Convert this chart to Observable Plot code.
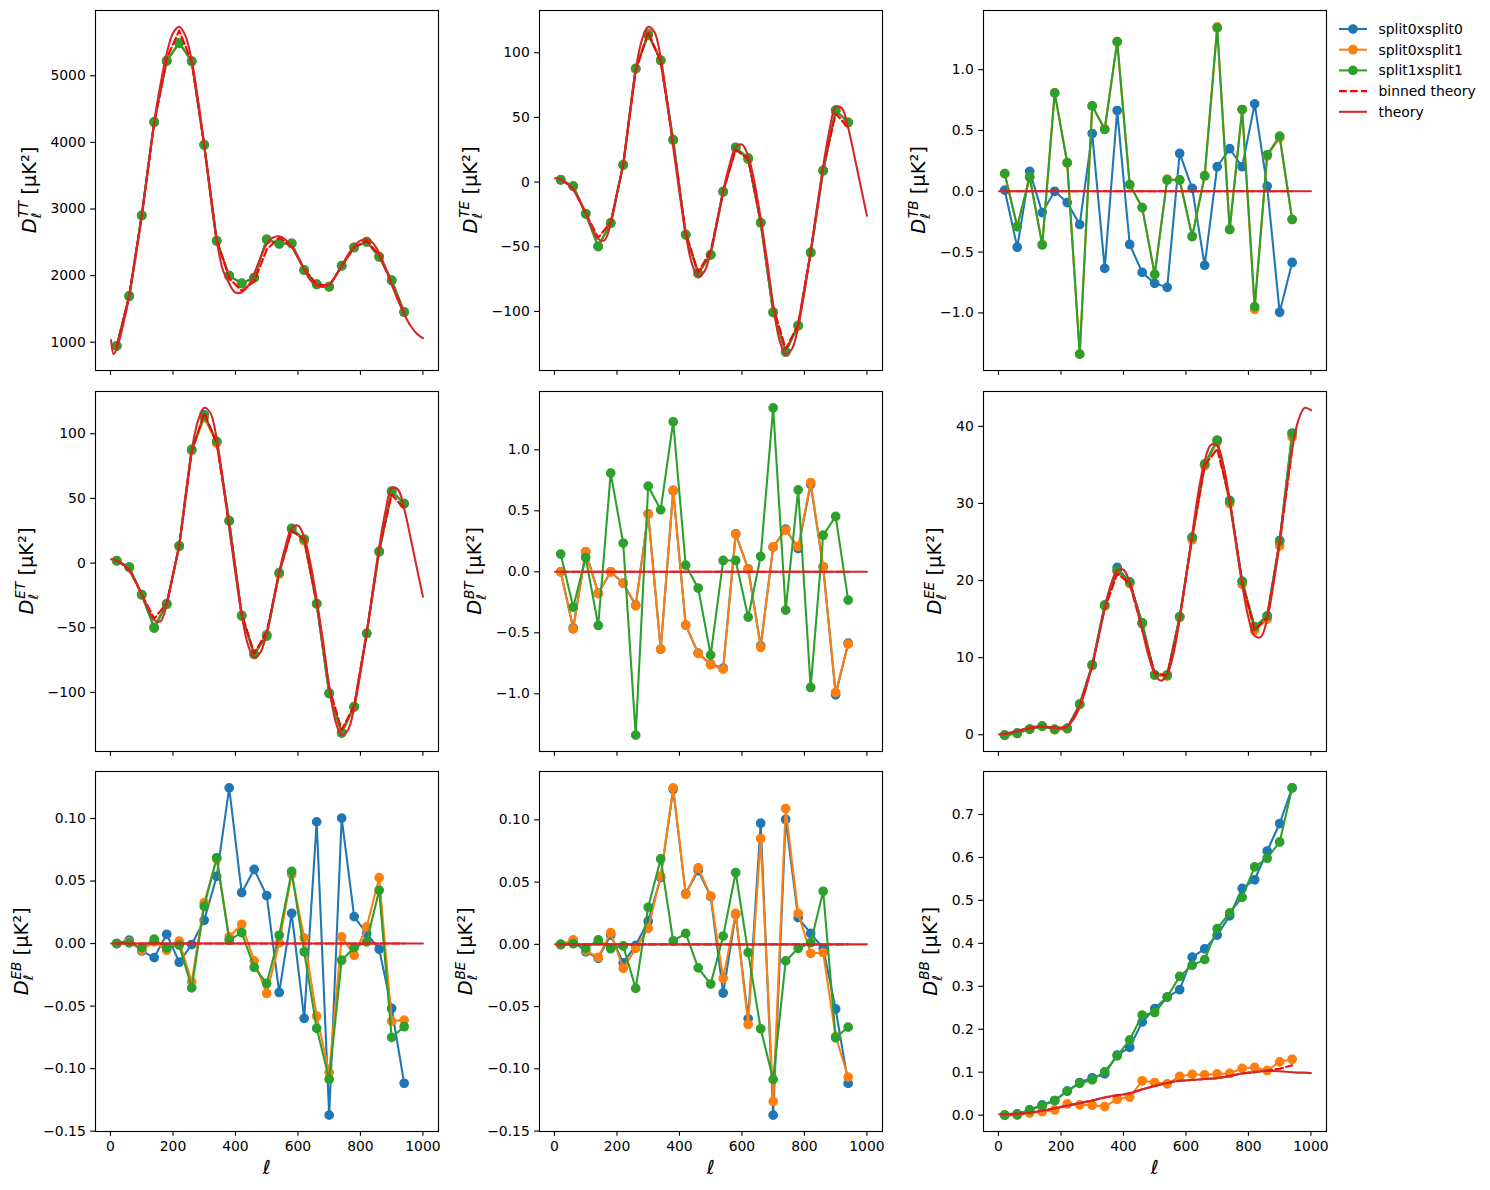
<!DOCTYPE html>
<html><head><meta charset="utf-8">
<script src="https://cdn.jsdelivr.net/npm/d3@7"></script>
<script src="https://cdn.jsdelivr.net/npm/@observablehq/plot@0.6"></script>
<style>
body{margin:0;background:#fff;}
#fig{position:relative;width:1490px;height:1190px;background:#fff;overflow:hidden;}
#fig > svg{position:absolute;}
</style></head><body><div id="fig"></div>
<script>
// ---------------- data ----------------
const ellBins = [20,60,100,140,180,220,260,300,340,380,420,460,500,540,580,620,660,700,740,780,820,860,900,940];
const ellTheory = [2,10,20,40,60,80,100,120,140,160,180,200,220,240,260,280,300,320,340,360,380,400,420,440,460,480,500,520,540,560,580,600,620,640,660,680,700,720,740,760,780,800,820,840,860,880,900,920,940,960,980,1000];
const xTicks = [0,200,400,600,800,1000];
const seriesNames = ["split0xsplit0","split0xsplit1","split1xsplit1","binned theory","theory"];

// TT
const ttSplit00 = [945,1695,2905,4300,5230,5500,5215,3965,2525,1995,1885,1965,2545,2475,2485,2085,1865,1835,2145,2425,2505,2285,1925,1455];
const ttSplit01 = [942,1692,2902,4305,5225,5495,5218,3962,2522,1998,1882,1968,2542,2478,2482,2082,1868,1832,2148,2422,2508,2282,1928,1452];
const ttSplit11 = [940,1690,2900,4310,5220,5490,5220,3960,2520,2000,1880,1970,2540,2480,2480,2080,1870,1830,2150,2420,2510,2280,1930,1450];
const ttBinned  = [930,1700,2900,4290,5260,5680,5210,3950,2540,1960,1770,1910,2390,2570,2440,2100,1870,1850,2140,2430,2520,2310,1880,1440];
const ttTheory  = [1030,820,900,1250,1690,2260,2890,3600,4300,4870,5330,5640,5735,5600,5230,4650,3960,3200,2530,2080,1880,1745,1750,1840,2030,2270,2470,2570,2590,2540,2430,2270,2090,1930,1850,1830,1870,1990,2150,2310,2440,2525,2545,2490,2340,2120,1870,1630,1420,1250,1130,1060];
const ttTicks = [1000,2000,3000,4000,5000];

// TE
const teSplit00 = [1.8,-3.3,-24.5,-49.5,-31.5,13.2,87.5,115,94.0,32.5,-40.5,-70.8,-56.3,-7.8,26.5,17.6,-31.2,-100.5,-131.5,-110.8,-54.6,8.7,55.2,46.2];
const teSplit01 = [1.9,-3.2,-24.3,-49.7,-31.6,13.3,87.7,114.3,94.2,32.7,-40.6,-70.6,-56.2,-7.5,26.7,18.1,-31.4,-100.6,-131.2,-111,-54.4,8.9,55.4,46.1];
const teSplit11 = [1.8,-3.1,-24.5,-49.9,-31.8,13.4,87.9,113.7,94.1,32.8,-40.8,-70.5,-56.1,-7.2,26.9,18.6,-31.5,-100.8,-131,-111.1,-54.3,9.0,55.6,46];
const teBinned  = [2,-5,-24,-43,-31,13,86,116,93,29,-39,-70,-53,-7,25,18,-30,-96,-129,-110,-54,11,53,42];
const teTheory  = [3,3,2,-1,-6,-14,-24,-35,-44,-45,-32,-9,15,52,87,110,120,116,96,64,27,-8,-40,-63,-73,-69,-54,-31,-7,13,27,29,20,0,-28,-60,-95,-122,-133,-129,-112,-85,-54,-20,12,40,58,57,42,20,-3,-26];
const teTicks = [-100,-50,0,50,100];

// ET
const etSplit00 = [1.9,-3.2,-24.4,-49.6,-31.4,13.0,87.2,114.6,93.6,32.6,-40.4,-70.6,-55.4,-8.0,26.4,17.8,-31.3,-100.6,-131.3,-111.0,-54.5,8.8,55.3,46.0];
const etSplit01 = [1.8,-3.3,-24.6,-49.8,-31.7,13.1,87.0,112.4,92.8,32.5,-40.7,-70.4,-55.8,-8.4,26.2,17.2,-31.4,-100.7,-131.1,-111.2,-54.3,9.1,55.5,45.8];
const etSplit11 = [1.8,-3.1,-24.5,-50.2,-31.8,13.4,87.9,113.7,94.1,32.8,-40.8,-70.5,-56.5,-7.4,26.9,18.6,-31.5,-100.8,-131,-111.1,-54.3,9.0,55.6,46];
const etBinned  = teBinned;
const etTheory  = teTheory;

// TB
const tbSplit00 = [0.01,-0.46,0.164,-0.175,0.0,-0.093,-0.273,0.475,-0.634,0.664,-0.437,-0.667,-0.757,-0.790,0.311,0.025,-0.609,0.202,0.350,0.202,0.719,0.041,-0.995,-0.585];
const tbSplit01 = [0.145,-0.29,0.117,-0.44,0.809,0.235,-1.339,0.702,0.514,1.23,0.055,-0.134,-0.683,0.10,0.093,-0.372,0.13,1.352,-0.314,0.672,-0.97,0.29,0.44,-0.232];
const tbSplit11 = [0.145,-0.29,0.117,-0.44,0.809,0.235,-1.339,0.702,0.508,1.23,0.055,-0.134,-0.683,0.093,0.093,-0.372,0.126,1.344,-0.314,0.672,-0.948,0.30,0.454,-0.232];
const tbTicks = [-1,-0.5,0,0.5,1];

// BT
const btSplit00 = [0.0,-0.46,0.164,-0.175,0.0,-0.093,-0.273,0.475,-0.634,0.664,-0.437,-0.667,-0.757,-0.790,0.311,0.025,-0.607,0.202,0.350,0.19,0.718,0.041,-1.008,-0.585];
const btSplit01 = [0.0,-0.47,0.164,-0.178,0.0,-0.093,-0.279,0.473,-0.634,0.669,-0.437,-0.669,-0.762,-0.798,0.309,0.022,-0.62,0.205,0.342,0.208,0.732,0.041,-0.989,-0.593];
const btSplit11 = [0.145,-0.29,0.117,-0.44,0.809,0.235,-1.339,0.702,0.508,1.23,0.055,-0.134,-0.683,0.093,0.093,-0.372,0.126,1.344,-0.314,0.672,-0.948,0.30,0.454,-0.232];

// EE
const eeSplit00 = [-0.05,0.2,0.73,1.12,0.69,0.82,3.97,9.05,16.8,21.7,19.8,14.5,7.8,7.75,15.3,25.6,35.1,38.2,30.4,19.9,14.0,15.4,25.2,39.1];
const eeSplit01 = [-0.05,0.15,0.7,1.1,0.65,0.78,3.9,8.95,16.7,21.2,19.6,14.4,7.7,7.6,15.2,25.3,34.9,38.0,30.0,19.5,13.5,15.0,24.5,38.6];
const eeSplit11 = [-0.05,0.2,0.73,1.12,0.69,0.82,3.97,9.05,16.8,21.3,19.8,14.5,7.76,7.72,15.3,25.6,35.1,38.2,30.3,19.9,14.0,15.4,25.1,39.1];
const eeBinned  = [0.1,0.45,0.85,1.07,0.92,0.95,3.7,8.9,16.3,20.9,19.6,13.7,8.0,7.7,15.0,25.8,34.9,37.1,30.4,19.8,13.6,15.2,25.0,36.9];
const eeTheory  = [0.05,0.07,0.1,0.3,0.5,0.75,0.95,1.07,1.1,1.02,0.9,0.85,1.1,2.0,3.6,6.0,9.0,12.6,16.4,19.5,21.3,21.4,19.8,17.0,13.6,10.3,7.9,7.0,7.8,10.5,15.0,20.5,26.0,31.5,35.5,37.6,37.5,35.0,30.5,25.0,19.5,15.2,12.8,12.7,15.0,19.5,25.2,31.5,37.0,40.8,42.4,42.1];
const eeTicks = [0,10,20,30,40];

// EB
const ebSplit00 = [0,0.0027,-0.0059,-0.0112,0.0074,-0.0149,-0.0008,0.0186,0.0537,0.1245,0.0407,0.0593,0.0383,-0.0391,0.0242,-0.0598,0.0973,-0.1372,0.1003,0.0215,0.008,-0.0045,-0.0519,-0.1117];
const ebSplit01 = [0,0.0013,-0.0053,0.0013,-0.0053,0.0019,-0.0306,0.0327,0.0678,0.0053,0.0154,-0.0138,-0.0399,0.0005,0.0553,0.0045,-0.058,-0.1032,0.0053,-0.0093,0.0133,0.0527,-0.062,-0.0612];
const ebSplit11 = [0,0.0005,-0.0032,0.0035,-0.0035,-0.0013,-0.0354,0.0298,0.0686,0.0027,0.0088,-0.0189,-0.0319,0.0066,0.0577,-0.0066,-0.0678,-0.1085,-0.0133,-0.0032,0.0013,0.0426,-0.075,-0.0665];
const ebTicks = [-0.15,-0.1,-0.05,0,0.05,0.1];

// BE
const beSplit00 = [0,0.0027,-0.0059,-0.0112,0.0074,-0.0149,-0.0008,0.0186,0.0537,0.1245,0.0407,0.0593,0.0383,-0.0391,0.0242,-0.0598,0.0973,-0.1372,0.1003,0.0215,0.0088,-0.0032,-0.0519,-0.1117];
const beSplit01 = [-0.0005,0.0035,-0.005,-0.0104,0.0094,-0.0193,-0.0032,0.0128,0.0548,0.1257,0.0401,0.0615,0.0388,-0.0273,0.0249,-0.0642,0.085,-0.1262,0.1091,0.0249,-0.0072,-0.0067,-0.074,-0.1067];
const beSplit11 = [0,0.0005,-0.0032,0.0035,-0.0035,-0.0013,-0.0354,0.0298,0.0686,0.0027,0.0088,-0.0189,-0.0319,0.0066,0.0577,-0.0066,-0.0678,-0.1085,-0.0133,-0.0032,0.0013,0.0426,-0.075,-0.0665];

// BB
const bbSplit00 = [0,0.003,0.012,0.024,0.034,0.056,0.076,0.087,0.096,0.14,0.158,0.217,0.248,0.275,0.292,0.368,0.387,0.419,0.464,0.528,0.548,0.615,0.679,0.762];
const bbSplit01 = [0,0,0.005,0.008,0.012,0.026,0.024,0.023,0.020,0.037,0.042,0.080,0.076,0.073,0.090,0.095,0.094,0.096,0.097,0.109,0.111,0.104,0.124,0.130];
const bbSplit11 = [0,0.001,0.012,0.022,0.034,0.056,0.074,0.082,0.101,0.138,0.175,0.233,0.239,0.275,0.323,0.349,0.362,0.434,0.471,0.507,0.578,0.598,0.636,0.762];
const bbBinned  = [0.002,0.003,0.006,0.010,0.016,0.022,0.028,0.034,0.041,0.046,0.051,0.060,0.068,0.075,0.080,0.082,0.084,0.086,0.091,0.097,0.100,0.104,0.108,0.116];
const bbTheory  = [0.002,0.002,0.002,0.003,0.003,0.004,0.006,0.008,0.010,0.013,0.016,0.019,0.022,0.025,0.028,0.031,0.034,0.038,0.041,0.044,0.046,0.048,0.051,0.055,0.060,0.064,0.068,0.072,0.075,0.078,0.080,0.081,0.082,0.083,0.084,0.085,0.086,0.088,0.091,0.094,0.097,0.099,0.100,0.102,0.103,0.103,0.102,0.101,0.100,0.099,0.099,0.098];
const bbTicks = [0,0.1,0.2,0.3,0.4,0.5,0.6,0.7];

// zero theory for the parity-odd spectra
const zeroTheory = ellTheory.map(() => 0);
const zeroBinned = ellBins.map(() => 0);

// ---------------- layout ----------------
const colors = ["#1f77b4","#ff7f0e","#2ca02c"];
const binnedColor = "#ff0000", theoryColor = "#d62728";
const colLeft = [95.3, 539.3, 983.3];
const rowTop = [10, 391, 771.3];
const frameW = 343, frameH = 360;
const M = {l: 70, r: 12, t: 12, b: 40};
const LW = 2.08;

const panels = [
  {row:0,col:0,key:"TT",s:[ttSplit00,ttSplit01,ttSplit11],binned:ttBinned,theory:ttTheory,ticks:ttTicks,fmt:"d"},
  {row:0,col:1,key:"TE",s:[teSplit00,teSplit01,teSplit11],binned:teBinned,theory:teTheory,ticks:teTicks,fmt:"d"},
  {row:0,col:2,key:"TB",s:[tbSplit00,tbSplit01,tbSplit11],binned:zeroBinned,theory:zeroTheory,ticks:tbTicks,fmt:".1f"},
  {row:1,col:0,key:"ET",s:[etSplit00,etSplit01,etSplit11],binned:etBinned,theory:etTheory,ticks:teTicks,fmt:"d"},
  {row:1,col:1,key:"BT",s:[btSplit00,btSplit01,btSplit11],binned:zeroBinned,theory:zeroTheory,ticks:tbTicks,fmt:".1f"},
  {row:1,col:2,key:"EE",s:[eeSplit00,eeSplit01,eeSplit11],binned:eeBinned,theory:eeTheory,ticks:eeTicks,fmt:"d"},
  {row:2,col:0,key:"EB",s:[ebSplit00,ebSplit01,ebSplit11],binned:zeroBinned,theory:zeroTheory,ticks:ebTicks,fmt:".2f"},
  {row:2,col:1,key:"BE",s:[beSplit00,beSplit01,beSplit11],binned:zeroBinned,theory:zeroTheory,ticks:ebTicks,fmt:".2f"},
  {row:2,col:2,key:"BB",s:[bbSplit00,bbSplit01,bbSplit11],binned:bbBinned,theory:bbTheory,ticks:bbTicks,fmt:".1f"}
];

const fig = document.getElementById("fig");
const figRect = () => fig.getBoundingClientRect();
const yLabelPos = [];

for (const p of panels) {
  const pts = arr => ellBins.map((l, i) => ({l, v: arr[i]}));
  const th = ellTheory.map((l, i) => ({l, v: p.theory[i]}));
  const bn = ellBins.map((l, i) => ({l, v: p.binned[i]}));
  const all = [...p.s[0], ...p.s[1], ...p.s[2], ...p.binned, ...p.theory];
  const [lo, hi] = d3.extent(all);
  const pad = (hi - lo) * 0.05;
  const [xlo, xhi] = d3.extent(ellTheory);
  const xpad = (xhi - xlo) * 0.05;

  const marks = [
    Plot.axisX({ticks: xTicks, tickSize: 4.86, tickPadding: 4.86, strokeWidth: 1.11,
      tickFormat: p.row === 2 ? d3.format("d") : () => "", label: null}),
    Plot.axisY({ticks: p.ticks, tickSize: 4.86, tickPadding: 4.86, strokeWidth: 1.11,
      tickFormat: d3.format(p.fmt), label: null})
  ];
  p.s.forEach((arr, k) => {
    const d = pts(arr);
    marks.push(Plot.line(d, {x: "l", y: "v", stroke: colors[k], strokeWidth: LW, strokeLinejoin: "round"}));
    marks.push(Plot.dot(d, {x: "l", y: "v", r: 4.17, fill: colors[k], stroke: colors[k], strokeWidth: 1.39}));
  });
  marks.push(Plot.line(bn, {x: "l", y: "v", stroke: binnedColor, strokeWidth: LW, strokeDasharray: "7.7,3.3"}));
  marks.push(Plot.line(th, {x: "l", y: "v", stroke: theoryColor, strokeWidth: LW, curve: "catmull-rom"}));
  marks.push(Plot.frame({stroke: "black", strokeWidth: 1.11}));

  const chart = Plot.plot({
    width: M.l + frameW + M.r,
    height: M.t + frameH + M.b,
    marginLeft: M.l, marginRight: M.r, marginTop: M.t, marginBottom: M.b,
    style: {background: "transparent", color: "black", fontFamily: "'DejaVu Sans', sans-serif", fontSize: "13.9px", overflow: "visible"},
    x: {domain: [xlo - xpad, xhi + xpad], label: null},
    y: {domain: [lo - pad, hi + pad], label: null},
    marks
  });
  chart.style.position = "absolute";
  chart.style.left = (colLeft[p.col] - M.l) + "px";
  chart.style.top = (rowTop[p.row] - M.t) + "px";
  chart.style.maxWidth = "none";
  fig.appendChild(chart);

  // measure y tick labels to place y label like matplotlib
  let minLeft = Infinity;
  const fr = figRect();
  chart.querySelectorAll('g[aria-label="y-axis tick label"] text').forEach(t => {
    const r = t.getBoundingClientRect();
    if (r.width > 0) minLeft = Math.min(minLeft, r.left - fr.left);
  });
  if (!isFinite(minLeft)) minLeft = colLeft[p.col] - 45;
  yLabelPos.push({p, bx: minLeft - 5.56 - 9.6, cy: rowTop[p.row] + frameH / 2});
}

// ---------------- overlay: labels + legend ----------------
const ov = d3.select(fig).append("svg")
  .attr("width", 1490).attr("height", 1190)
  .style("left", "0px").style("top", "0px").style("pointer-events", "none")
  .attr("font-family", "'DejaVu Sans', sans-serif");

const FS = 19.44, SFS = 13.6;
for (const {p, bx, cy} of yLabelPos) {
  const t = ov.append("text")
    .attr("transform", `translate(${bx},${cy}) rotate(-90)`)
    .attr("text-anchor", "middle").attr("font-size", FS).attr("fill", "black");
  t.append("tspan").attr("font-style", "italic").text("D");
  const sub = t.append("tspan").attr("font-style", "italic").attr("font-size", SFS).attr("dy", 5).text("ℓ");
  const w = sub.node().getComputedTextLength ? sub.node().getComputedTextLength() : 5.5;
  t.append("tspan").attr("font-style", "italic").attr("font-size", SFS).attr("dx", -(w || 5.5) + 0.8).attr("dy", -12.5).text(p.key);
  t.append("tspan").attr("dy", 7.5).text(" [μK²]");
}

for (let c = 0; c < 3; c++) {
  ov.append("text").attr("x", colLeft[c] + frameW / 2).attr("y", 1174)
    .attr("text-anchor", "middle").attr("font-size", FS).attr("font-style", "italic")
    .attr("fill", "black").text("ℓ");
}

// legend
const legX1 = 1339, legX2 = 1367, legTx = 1378.5, legY0 = 29, legStep = 20.7;
seriesNames.forEach((name, i) => {
  const y = legY0 + i * legStep;
  const col = i < 3 ? colors[i] : (i === 3 ? binnedColor : theoryColor);
  const ln = ov.append("line").attr("x1", legX1).attr("x2", legX2).attr("y1", y).attr("y2", y)
    .attr("stroke", col).attr("stroke-width", LW);
  if (i === 3) ln.attr("stroke-dasharray", "7.7,3.3");
  if (i < 3) ov.append("circle").attr("cx", (legX1 + legX2) / 2).attr("cy", y).attr("r", 4.17)
    .attr("fill", col).attr("stroke", col).attr("stroke-width", 1.39);
  ov.append("text").attr("x", legTx).attr("y", y).attr("dy", "0.35em")
    .attr("font-size", 13.9).attr("fill", "black").text(name);
});
</script>
</body></html>
